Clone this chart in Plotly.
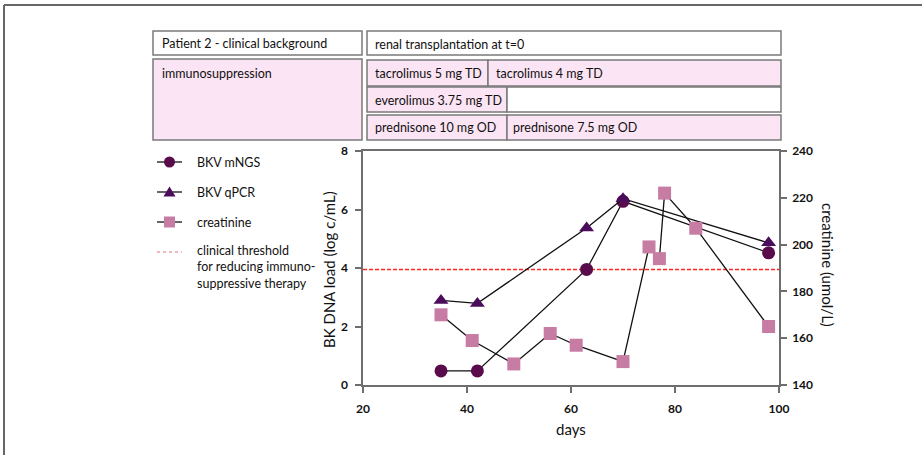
import plotly.graph_objects as go

# ---------------- data ----------------
days_ngs = [35, 42, 63, 70, 98]
bkv_mngs = [0.48, 0.48, 3.95, 6.28, 4.52]

days_qpcr = [35, 42, 63, 70, 98]
bkv_qpcr = [2.89, 2.79, 5.37, 6.37, 4.86]

days_creat = [35, 41, 49, 56, 61, 70, 75, 77, 78, 84, 98]
creatinine = [170, 159, 149, 162, 157, 150, 199, 194, 222, 207, 165]

threshold = 3.95

x_ticks = [20, 40, 60, 80, 100]
y_ticks = [0, 2, 4, 6, 8]
y2_ticks = [140, 160, 180, 200, 220, 240]

header_labels = ["Patient 2 - clinical background", "immunosuppression",
                 "renal transplantation at t=0",
                 "tacrolimus 5 mg TD", "tacrolimus 4 mg TD",
                 "everolimus 3.75 mg TD", "",
                 "prednisone 10 mg OD", "prednisone 7.5 mg OD"]

legend_labels = ["BKV mNGS", "BKV qPCR", "creatinine",
                 "clinical threshold<br>for reducing immuno-<br>suppressive therapy"]

# ---------------- styling / layout ----------------
W, H = 922, 455
L, R, T, B = 363, 779, 151, 385  # plot area in pixels
FONT = "Lato"
PINK = "#fbe4f4"
BOXLINE = "#7a7a7a"
AXCOL = "#6e6e6e"
C_NGS = "#5a0b4c"
C_QPCR = "#4b0c5c"
C_CREAT = "#c77ca3"


def px(x):
    return (x - L) / (R - L)


def py(y):
    return (B - y) / (B - T)


fig = go.Figure()

fig.add_trace(go.Scatter(x=days_ngs, y=bkv_mngs, mode="lines+markers", name="BKV mNGS",
                         line=dict(color="#111", width=1.3),
                         marker=dict(symbol="circle", size=13, color=C_NGS),
                         showlegend=False))
fig.add_trace(go.Scatter(x=days_qpcr, y=bkv_qpcr, mode="lines+markers", name="BKV qPCR",
                         line=dict(color="#111", width=1.3),
                         marker=dict(symbol="triangle-up", size=13, color=C_QPCR),
                         showlegend=False))
fig.add_trace(go.Scatter(x=days_creat, y=creatinine, mode="lines+markers", name="creatinine",
                         yaxis="y2",
                         line=dict(color="#111", width=1.3),
                         marker=dict(symbol="square", size=13, color=C_CREAT),
                         showlegend=False))

# threshold
shapes = [dict(type="line", xref="x", yref="y", x0=x_ticks[0], x1=x_ticks[-1],
               y0=threshold, y1=threshold,
               line=dict(color="#ff2626", width=1.6, dash="4px,2px"), layer="below")]
annotations = []

# outer border (top and left)
shapes.append(dict(type="line", xref="paper", yref="paper", x0=px(4), x1=px(W + 5),
                   y0=py(5), y1=py(5), line=dict(color="#666", width=2)))
shapes.append(dict(type="line", xref="paper", yref="paper", x0=px(4), x1=px(4),
                   y0=py(5), y1=py(H + 5), line=dict(color="#666", width=2)))

# header boxes: (x0, y0, x1, y1, fill, text_x, text_y)
boxes = [
    (153, 31, 362, 55, "white", 160, 43),
    (153, 59, 362, 140, PINK, 160, 73),
    (367, 31, 781, 55, "white", 373, 44),
    (367, 60, 488, 86, PINK, 373, 73),
    (488, 60, 781, 86, PINK, 494, 73),
    (367, 87, 507, 112, PINK, 373, 100),
    (507, 87, 781, 112, "white", 513, 100),
    (367, 115, 507, 140, PINK, 373, 128),
    (507, 115, 781, 140, PINK, 511, 128),
]
for (x0, y0, x1, y1, fill, tx, ty), lab in zip(boxes, header_labels):
    shapes.append(dict(type="rect", xref="paper", yref="paper",
                       x0=px(x0), x1=px(x1), y0=py(y0), y1=py(y1),
                       fillcolor=fill, line=dict(color=BOXLINE, width=1.5)))
    if lab:
        annotations.append(dict(xref="paper", yref="paper", x=px(tx), y=py(ty),
                                text=lab, showarrow=False, xanchor="left", yanchor="middle",
                                font=dict(family=FONT, size=12.5, color="#111")))

# manual legend (line + glyph + text)
leg_y = [162, 192, 222, 252]
leg_text_y = [162, 192, 222, 267]
for yy in leg_y[:3]:
    shapes.append(dict(type="line", xref="paper", yref="paper", x0=px(157), x1=px(182),
                       y0=py(yy), y1=py(yy), line=dict(color="#111", width=1.3)))
shapes.append(dict(type="line", xref="paper", yref="paper", x0=px(157), x1=px(182),
                   y0=py(252), y1=py(252), line=dict(color="#f2a0a6", width=1.3, dash="dot")))
cx = 169.5
# circle glyph
shapes.append(dict(type="circle", xref="paper", yref="paper",
                   x0=px(cx - 5.5), x1=px(cx + 5.5), y0=py(leg_y[0] - 5.5), y1=py(leg_y[0] + 5.5),
                   fillcolor=C_NGS, line=dict(width=0)))
# triangle glyph
ty0 = leg_y[1]
tri = "M {:.5f} {:.5f} L {:.5f} {:.5f} L {:.5f} {:.5f} Z".format(
    px(cx - 6), py(ty0 + 4.5), px(cx + 6), py(ty0 + 4.5), px(cx), py(ty0 - 5.5))
shapes.append(dict(type="path", xref="paper", yref="paper", path=tri,
                   fillcolor=C_QPCR, line=dict(width=0)))
# square glyph
shapes.append(dict(type="rect", xref="paper", yref="paper",
                   x0=px(cx - 5.5), x1=px(cx + 5.5), y0=py(leg_y[2] - 5.5), y1=py(leg_y[2] + 5.5),
                   fillcolor=C_CREAT, line=dict(width=0)))

for lab, yy in zip(legend_labels, leg_text_y):
    annotations.append(dict(xref="paper", yref="paper", x=px(195), y=py(yy), text=lab,
                            showarrow=False, xanchor="left", yanchor="middle", align="left",
                            font=dict(family=FONT, size=12.5, color="#111")))

# axis titles
annotations.append(dict(xref="paper", yref="paper", x=px(329), y=py(270), text="BK DNA load (log c/mL)",
                        textangle=-90, showarrow=False, xanchor="center", yanchor="middle",
                        font=dict(family=FONT, size=15, color="#111")))
annotations.append(dict(xref="paper", yref="paper", x=px(828), y=py(265), text="creatinine (umol/L)",
                        textangle=90, showarrow=False, xanchor="center", yanchor="middle",
                        font=dict(family=FONT, size=15, color="#111")))
annotations.append(dict(xref="paper", yref="paper", x=px(571), y=py(429), text="days",
                        showarrow=False, xanchor="center", yanchor="middle",
                        font=dict(family=FONT, size=15, color="#111")))

tickfont = dict(family=FONT, size=12, color="#111", weight="bold")

fig.update_layout(
    width=W, height=H,
    margin=dict(l=L, r=W - R, t=T, b=H - B, pad=0),
    paper_bgcolor="white", plot_bgcolor="white",
    showlegend=False,
    xaxis=dict(range=[20, 100], tickvals=x_ticks, showgrid=False, zeroline=False,
               showline=True, mirror=True, linecolor=AXCOL, linewidth=1.5,
               ticks="outside", ticklen=6, tickcolor=AXCOL, tickwidth=1.5,
               tickfont=tickfont, ticklabelstandoff=6),
    yaxis=dict(range=[0, 8], tickvals=y_ticks, showgrid=False, zeroline=False,
               showline=True, linecolor=AXCOL, linewidth=1.5,
               ticks="outside", ticklen=6, tickcolor=AXCOL, tickwidth=1.5,
               tickfont=tickfont, ticklabelstandoff=5),
    yaxis2=dict(range=[140, 240], tickvals=y2_ticks, overlaying="y", side="right",
                showgrid=False, zeroline=False, showline=True, linecolor=AXCOL, linewidth=1.5,
                ticks="outside", ticklen=6, tickcolor=AXCOL, tickwidth=1.5,
                tickfont=tickfont, ticklabelstandoff=3),
    shapes=shapes,
    annotations=annotations,
)

fig.write_html("out.html", config={"displayModeBar": False},
               post_script="document.body.style.margin='0';document.body.style.overflow='hidden';")
